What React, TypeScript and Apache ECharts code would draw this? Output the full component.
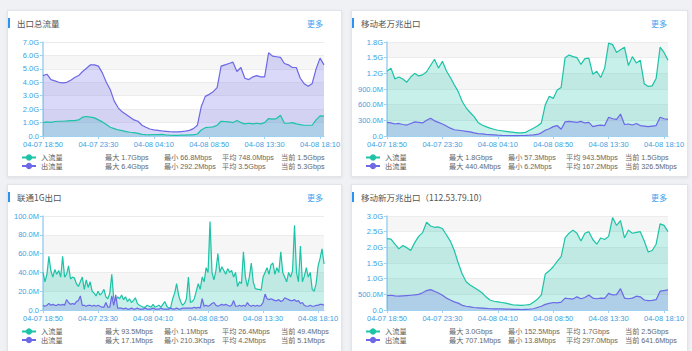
import React, { useEffect, useRef } from 'react';
import * as echarts from 'echarts';

const SERIES_NAMES = ['入流量', '出流量'];
const TITLES = ['出口总流量', '移动老万兆出口', '联通1G出口', '移动新万兆出口（112.53.79.10）'];
const MORE_TEXT = '更多';

// values in Mbps, 20-minute samples from 04-07 18:50
const p1In = [1000,1050,1020,1080,1100,1100,1120,1150,1150,1200,
  1400,1450,1400,1350,1200,1050,850,650,550,450,
  400,330,280,250,200,120,100,90,110,100,
  120,80,60,50,50,60,70,80,90,150,
  450,620,650,680,800,1100,1080,1050,1000,1150,
  1000,900,950,900,950,900,1000,1300,1250,1300,
  1550,950,950,1000,900,850,800,800,800,1200,
  1500,1480];
const p1Out = [4500,4600,4200,4100,4000,3950,4000,4150,4350,4500,
  4800,5050,5300,5300,5200,4700,4000,3450,2600,2100,
  1800,1600,1400,1200,1100,800,650,520,460,420,
  380,350,320,300,300,330,360,420,550,800,
  2200,2950,3100,3300,3600,5200,5300,5400,5500,4800,
  5100,4300,4200,4400,4500,4400,4400,6200,5950,5900,
  5850,5400,5300,5100,5100,4300,3900,3700,3900,5000,
  5800,5300];
const p2In = [1240,1300,1090,1130,1090,1030,1130,1200,1150,1170,
  1230,1350,1470,1300,1430,1250,1120,980,850,660,
  540,450,370,260,210,180,150,130,110,100,
  90,80,70,60,60,70,110,150,190,250,
  600,760,720,880,930,1500,1550,1520,1500,1370,
  1480,1490,1180,1240,1120,1300,1780,1750,1600,1650,
  1700,1350,1520,1400,1450,1000,950,960,1100,1700,
  1600,1450];
const p2Out = [260,250,230,240,220,210,240,270,260,250,
  300,340,290,260,230,190,150,120,110,100,
  90,80,60,45,40,30,25,20,15,12,
  10,8,7,8,10,12,15,20,30,60,
  110,140,180,200,130,270,280,270,260,280,
  250,260,180,200,210,200,360,330,320,420,
  220,230,210,240,200,190,180,190,200,360,
  330,320];
// 10-minute samples
const p3In = [40,30,38,57,42,35,43,38,42,35,
  57,35,38,47,33,35,34,28,25,30,
  35,22,32,24,30,20,18,15,20,16,
  18,22,14,12,18,38,12,10,14,12,
  16,11,14,9,12,8,10,13,7,5,
  4,3,3,5,4,3,6,3,4,5,
  3,6,9,4,2,3,12,18,28,16,
  9,5,7,12,35,8,9,12,20,28,
  22,35,30,45,40,94,40,32,42,60,
  40,46,42,38,44,40,42,35,40,25,
  30,28,62,35,25,35,50,30,23,22,
  22,21,35,40,45,38,48,50,38,45,
  40,62,40,35,30,40,35,42,90,40,
  30,68,30,36,45,35,40,22,20,28,
  47,55,65,49];
const p3Out = [5,4,5,7,5,6,5,5,6,5,
  6,5,11,8,6,7,6,9,10,15,
  5,5,4,5,5,4,5,4,5,4,
  3,3,8,3,3,15,5,16,2,2,
  2,1,2,1,1,2,1,1,2,1,
  1,1,2,1,1,1,2,1,1,1,
  2,1,1,1,1,2,1,1,2,1,
  1,2,2,2,2,2,2,3,2,3,
  2,12,4,5,4,5,7,8,5,4,
  5,6,5,6,5,4,5,10,4,4,
  5,4,5,4,8,5,4,5,4,5,
  4,5,8,17,12,11,12,11,10,10,
  11,9,10,13,12,11,10,10,11,9,
  10,7,8,5,4,4,5,4,4,5,
  5,6,6,5];
const p4In = [2280,2260,2100,1950,2060,1990,1900,2150,2350,2470,
  2800,2680,2640,2650,2600,2400,2200,1900,1500,1150,
  900,800,720,640,550,420,320,280,260,240,
  220,190,160,155,150,160,170,250,340,480,
  1150,1250,1380,1550,1700,2300,2450,2550,2450,2200,
  2450,2500,2250,2100,2300,2250,2350,2950,2700,2850,
  2300,2550,2450,2480,2500,2200,1850,1900,2100,2750,
  2700,2500];
const p4Out = [460,470,450,440,450,460,470,480,500,550,
  620,650,600,540,470,380,320,260,220,150,
  120,100,80,70,60,50,40,35,40,35,
  30,25,20,18,15,20,25,40,80,120,
  180,210,240,230,250,380,360,350,420,360,
  400,480,380,360,380,370,530,480,490,680,
  380,360,380,440,420,320,300,310,330,600,
  620,640];

const p1Stats = [['最大 1.7Gbps', '最小 66.8Mbps', '平均 748.0Mbps', '当前 1.5Gbps'], ['最大 6.4Gbps', '最小 292.2Mbps', '平均 3.5Gbps', '当前 5.3Gbps']];
const p2Stats = [['最大 1.8Gbps', '最小 57.3Mbps', '平均 943.5Mbps', '当前 1.5Gbps'], ['最大 440.4Mbps', '最小 6.2Mbps', '平均 167.2Mbps', '当前 326.5Mbps']];
const p3Stats = [['最大 93.5Mbps', '最小 1.1Mbps', '平均 26.4Mbps', '当前 49.4Mbps'], ['最大 17.1Mbps', '最小 210.3Kbps', '平均 4.2Mbps', '当前 5.1Mbps']];
const p4Stats = [['最大 3.0Gbps', '最小 152.5Mbps', '平均 1.7Gbps', '当前 2.5Gbps'], ['最大 707.1Mbps', '最小 13.8Mbps', '平均 297.0Mbps', '当前 641.6Mbps']];

const yMaxes = [7000, 1800, 100, 3000];
const yIntervals = [1000, 300, 20, 500];

function makeTimes(count: number, step: number): string[] {
  const out: string[] = [];
  const base = 18 * 60 + 50;
  for (let k = 0; k < count; k++) {
    const t = base + k * step;
    const day = 7 + Math.floor(t / 1440);
    const m = t % 1440;
    const hh = String(Math.floor(m / 60)).padStart(2, '0');
    const mm = String(m % 60).padStart(2, '0');
    out.push('04-0' + day + ' ' + hh + ':' + mm);
  }
  return out;
}

const times20 = makeTimes(72, 20);
const times10 = makeTimes(144, 10);

function fmtY(v: number) {
  if (v === 0) return '0.0';
  if (v >= 1000) return (v / 1000).toFixed(1) + 'G';
  return v.toFixed(1) + 'M';
}

const CARDS = [
  { x: 7, y: 10, w: 335, h: 167 },
  { x: 351, y: 10, w: 337, h: 167 },
  { x: 7, y: 184, w: 335, h: 175 },
  { x: 351, y: 184, w: 337, h: 175 },
];

const TEAL = '#1cc3a7';
const PURPLE = '#6c68e6';
const AXIS = '#9ed2f0';
const LABEL = '#3d9fe2';
const FONT = '"Microsoft YaHei", "Noto Sans CJK SC", sans-serif';
const SMALL_FONT = '"Liberation Sans", "Noto Sans CJK SC", sans-serif';

export default function App() {
  const ref = useRef<HTMLDivElement>(null);
  useEffect(() => {
    if (!ref.current) return;
    const chart = echarts.init(ref.current, undefined, { renderer: 'svg' });
    const panels = [
      { inData: p1In, outData: p1Out, times: times20, iv: 13, stats: p1Stats },
      { inData: p2In, outData: p2Out, times: times20, iv: 13, stats: p2Stats },
      { inData: p3In, outData: p3Out, times: times10, iv: 27, stats: p3Stats },
      { inData: p4In, outData: p4Out, times: times20, iv: 13, stats: p4Stats },
    ];
    const statOffsets = [98, 157, 215, 274];
    const graphic: any[] = [];
    CARDS.forEach((c, i) => {
      graphic.push({ type: 'rect', shape: { x: c.x + 1, y: c.y + 8, width: 2, height: 10 }, style: { fill: '#2b93f0' } });
      graphic.push({ type: 'text', x: c.x + 10, y: c.y + 13, style: { text: TITLES[i], fontSize: 8.5, fill: '#555', textVerticalAlign: 'middle', fontFamily: FONT } });
      graphic.push({ type: 'text', x: c.x + 300, y: c.y + 13.5, style: { text: MORE_TEXT, fontSize: 8, fill: '#3f9ff0', textVerticalAlign: 'middle', fontFamily: FONT } });
      panels[i].stats.forEach((row, r) => {
        row.forEach((s, k) => {
          graphic.push({ type: 'text', x: c.x + statOffsets[k], y: c.y + 147.5 + r * 8.5, style: { text: s, fontSize: 7.2, fill: '#666', textVerticalAlign: 'middle', fontFamily: SMALL_FONT } });
        });
      });
    });
    const option: any = {
      animation: false,
      textStyle: { fontFamily: SMALL_FONT },
      grid: CARDS.map((c) => ({ left: c.x + 36, top: c.y + 32, width: 281, height: 94 })),
      xAxis: panels.map((p, i) => ({
        type: 'category', gridIndex: i, data: p.times, boundaryGap: false,
        axisLine: { lineStyle: { color: AXIS } },
        axisTick: { interval: p.iv, length: 3, lineStyle: { color: AXIS } },
        axisLabel: { interval: p.iv, color: LABEL, fontSize: 7.5, margin: 5, fontFamily: SMALL_FONT },
        splitLine: { show: false },
      })),
      yAxis: panels.map((p, i) => ({
        type: 'value', gridIndex: i, min: 0, max: yMaxes[i], interval: yIntervals[i],
        axisLine: { show: true, lineStyle: { color: AXIS, width: 1.5 } },
        axisTick: { show: true, length: 3, lineStyle: { color: AXIS } },
        axisLabel: { formatter: fmtY, color: LABEL, fontSize: 7.5, margin: 4, fontFamily: SMALL_FONT },
        splitLine: { lineStyle: { color: '#ececec' } },
        splitArea: { show: true, areaStyle: { color: ['#ffffff', '#f6f6f6'] } },
      })),
      legend: CARDS.map((c) => ({
        orient: 'vertical', left: c.x + 14, top: c.y + 143.5, padding: 0,
        itemWidth: 14, itemHeight: 8, itemGap: 0.5, selectedMode: false,
        data: SERIES_NAMES,
        textStyle: { fontSize: 7.2, color: '#555', lineHeight: 8, fontFamily: SMALL_FONT },
      })),
      series: panels.flatMap((p, i) => [
        {
          name: SERIES_NAMES[0], type: 'line', xAxisIndex: i, yAxisIndex: i, data: p.inData,
          symbol: 'circle', showSymbol: false,
          lineStyle: { width: 1.2, color: TEAL }, itemStyle: { color: TEAL },
          areaStyle: { color: TEAL, opacity: 0.25 },
        },
        {
          name: SERIES_NAMES[1], type: 'line', xAxisIndex: i, yAxisIndex: i, data: p.outData,
          symbol: 'circle', showSymbol: false,
          lineStyle: { width: 1.2, color: PURPLE }, itemStyle: { color: PURPLE },
          areaStyle: { color: PURPLE, opacity: 0.25 },
        },
      ]),
      graphic,
    };
    chart.setOption(option);
    return () => chart.dispose();
  }, []);

  return (
    <div style={{ position: 'fixed', left: 0, top: 0, width: 692, height: 351, background: '#eff1f4', overflow: 'hidden' }}>
      {CARDS.map((c, i) => (
        <div key={i} style={{ position: 'absolute', left: c.x, top: c.y, width: c.w, height: c.h, boxSizing: 'border-box', background: '#fff', border: '1px solid #e1e4e9', boxShadow: '0 1px 3px rgba(0,0,0,0.08)' }} />
      ))}
      <div ref={ref} style={{ position: 'absolute', left: 0, top: 0, width: 692, height: 351 }} />
    </div>
  );
}
